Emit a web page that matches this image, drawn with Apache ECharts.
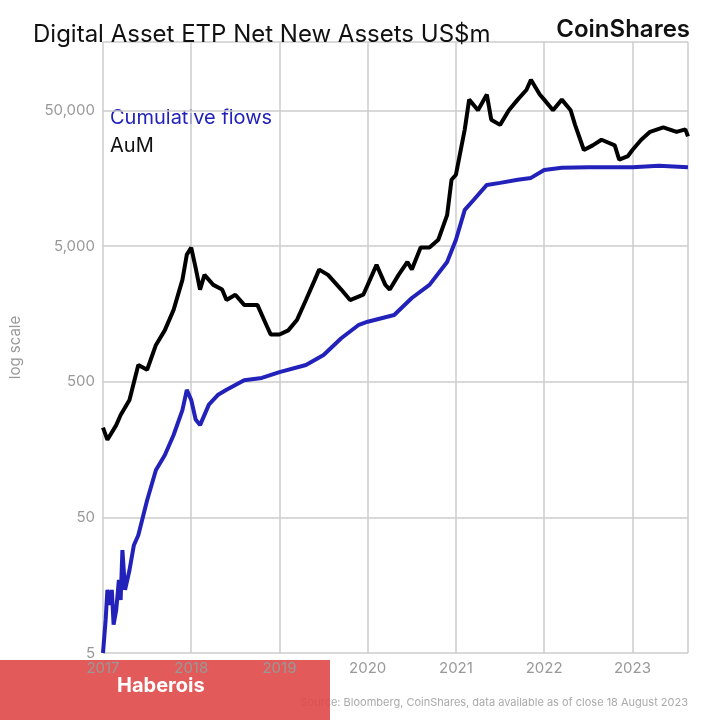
<!DOCTYPE html>
<html>
<head>
<meta charset="utf-8">
<script src="https://cdn.jsdelivr.net/npm/echarts@6/dist/echarts.min.js"></script>
<style>html,body{margin:0;padding:0;background:#fff}#chart{width:720px;height:720px}</style>
</head>
<body>
<div id="chart"></div>
<script>
// AuM, US$m, by decimal year
const aumYears = [2017.0,2017.05,2017.15,2017.2,2017.3,2017.4,2017.5,2017.6,2017.7,2017.8,2017.9,2017.95,2018.0,2018.05,2018.1,2018.15,2018.25,2018.35,2018.4,2018.5,2018.6,2018.75,2018.85,2018.9,2019.0,2019.1,2019.2,2019.3,2019.4,2019.45,2019.55,2019.7,2019.8,2019.95,2020.0,2020.1,2020.2,2020.25,2020.35,2020.45,2020.5,2020.6,2020.7,2020.8,2020.9,2020.95,2021.0,2021.1,2021.15,2021.25,2021.35,2021.4,2021.5,2021.6,2021.7,2021.8,2021.85,2021.95,2022.0,2022.1,2022.2,2022.3,2022.35,2022.45,2022.55,2022.65,2022.8,2022.85,2022.95,2023.0,2023.1,2023.2,2023.35,2023.5,2023.6,2023.63];
const aumValues = [230,187,240,285,368,667,615,937,1200,1700,2830,4350,4900,3470,2400,3080,2600,2400,2010,2200,1850,1850,1320,1120,1120,1200,1440,2010,2830,3370,3080,2400,2010,2200,2600,3650,2600,2400,3080,3840,3370,4900,4900,5600,8500,15500,16900,36500,60500,50500,66000,43000,39400,50500,60500,71500,84800,66000,60500,50500,60500,50500,39400,25700,27800,30600,27800,21800,23200,25700,30600,35000,37700,35000,36500,32400];

// Cumulative flows, US$m
const flowYears = [2017.0,2017.03,2017.05,2017.08,2017.1,2017.12,2017.15,2017.18,2017.2,2017.22,2017.25,2017.3,2017.35,2017.4,2017.5,2017.6,2017.7,2017.8,2017.9,2017.95,2018.0,2018.05,2018.1,2018.2,2018.3,2018.4,2018.6,2018.8,2019.0,2019.3,2019.5,2019.7,2019.9,2020.0,2020.3,2020.5,2020.7,2020.9,2021.0,2021.1,2021.2,2021.35,2021.5,2021.7,2021.85,2022.0,2022.2,2022.5,2023.0,2023.3,2023.63];
const flowValues = [5,8.8,14.6,11.3,14.6,8.1,10.4,17.3,12.3,28.7,14.6,20.4,31.2,37,67,112,144,203,310,437,368,264,240,340,400,437,515,535,590,667,790,1050,1320,1390,1560,2080,2600,3840,5600,9300,11000,14200,14700,15500,16000,18300,19000,19200,19200,19700,19200];

const toLog = (xs, vs) => xs.map((x, i) => [x, Math.log10(vs[i])]);
// ticks sit at 5, 50, 500 ... in log space
const fmt = v => Number(Math.pow(10, v).toPrecision(1)).toLocaleString('en-US');

const chart = echarts.init(document.getElementById('chart'));
chart.setOption({
  animation: false,
  grid: {left: 101, right: 32, top: 42, bottom: 67},
  title: {
    text: 'Digital Asset ETP Net New Assets US$m', left: 28, top: 18,
    textStyle: {fontFamily: 'Inter', fontSize: 24, fontWeight: 'normal', color: '#111'}
  },
  graphic: [
    {type: 'text', right: 30, top: 18, style: {text: 'CoinShares', font: '600 24px Inter', fill: '#111'}},
    {type: 'text', left: 110, top: 108, style: {text: 'Cumulative flows', font: '20px Inter', fill: '#2222bb'}},
    {type: 'text', left: 110, top: 136, style: {text: 'AuM', font: '20px Inter', fill: '#111'}},
    {type: 'text', right: 32, top: 697, style: {text: 'Source: Bloomberg, CoinShares, data available as of close 18 August 2023', font: '11px Inter', fill: '#aaa'}},
    {type: 'rect', left: 0, top: 660, shape: {width: 330, height: 60}, style: {fill: 'rgba(224,72,72,0.9)'}},
    {type: 'text', left: 117, top: 676, style: {text: 'Haberois', font: 'bold 20px Inter', fill: '#fff'}}
  ],
  xAxis: {
    type: 'value', min: 2017, max: 2023.63, interval: 1,
    axisLine: {show: false}, axisTick: {show: false},
    axisLabel: {color: '#999', fontSize: 15, fontFamily: 'Inter', showMaxLabel: false, formatter: v => String(v)},
    splitLine: {lineStyle: {color: '#ccc', width: 1.5}}
  },
  yAxis: {
    type: 'value', min: Math.log10(5), max: Math.log10(161000), interval: 1,
    name: 'log scale', nameLocation: 'middle', nameGap: 80,
    nameTextStyle: {color: '#999', fontSize: 15, fontFamily: 'Inter'},
    axisLine: {show: false}, axisTick: {show: false},
    axisLabel: {color: '#999', fontSize: 15, fontFamily: 'Inter', formatter: fmt, showMaxLabel: false},
    splitLine: {lineStyle: {color: '#ccc', width: 1.5}}
  },
  series: [
    {type: 'line', data: toLog(aumYears, aumValues), symbol: 'none', lineStyle: {color: '#000', width: 4}},
    {type: 'line', data: toLog(flowYears, flowValues), symbol: 'none', lineStyle: {color: '#2222bb', width: 4}}
  ]
});
</script>
</body>
</html>
